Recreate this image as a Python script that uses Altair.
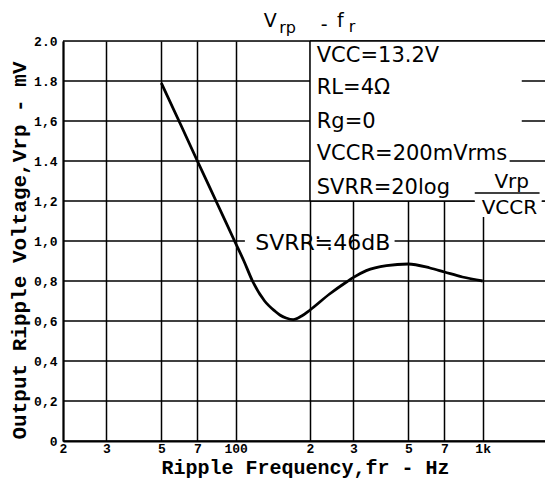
import altair as alt
import pandas as pd

# ---- data ----
freq_hz = [50, 60, 70, 84, 99, 108, 117, 131, 144, 151, 160, 171, 185, 200, 240,
           281, 300, 338, 408, 500, 612, 700, 828, 1000]
vrp_mv = [1.79, 1.58, 1.40, 1.19, 1.00, 0.90, 0.80, 0.70, 0.65, 0.63, 0.615, 0.607,
          0.625, 0.655, 0.735, 0.795, 0.818, 0.852, 0.877, 0.885, 0.865, 0.845, 0.82, 0.80]

x_ticks = [20, 30, 50, 70, 100, 200, 300, 500, 700, 1000, 2000]
x_tick_labels = ["2", "3", "5", "7", "100", "2", "3", "5", "7", "1k", "2"]
y_ticks = [0, 0.2, 0.4, 0.6, 0.8, 1.0, 1.2, 1.4, 1.6, 1.8, 2.0]
y_tick_labels = ["0", "0,2", "0,4", "0,6", "0,8", "1,0", "1,2", "1.4", "1,6", "1.8", "2.0"]

box_lines = ["VCC=13.2V", "RL=4Ω", "Rg=0", "VCCR=200mVrms", "SVRR=20log"]
svrr_note = "SVRR≒46dB"
x_title = "Ripple Frequency,fr - Hz"
y_title = "Output Ripple Voltage,Vrp - mV"


def label_expr(values, labels):
    expr = "''"
    for val, lab in reversed(list(zip(values, labels))):
        expr = f"abs(datum.value - {val}) < 1e-6 ? '{lab}' : ({expr})"
    return expr


curve = pd.DataFrame({"f": freq_hz, "v": vrp_mv})

X_SCALE = alt.Scale(type="log", domain=[20, 2000], nice=False)
Y_SCALE = alt.Scale(domain=[0, 2], nice=False)
MONO = "Liberation Mono"
SANS = "DejaVu Sans"
GRID_W = 1.5

x_axis = alt.Axis(values=x_ticks, labelExpr=label_expr(x_ticks, x_tick_labels),
                  title=x_title, grid=True, tickSize=0, labelPadding=1,
                  labelFont=MONO, labelFontWeight="bold", labelFontSize=13,
                  labelColor="black", labelOverlap=False, labelFlush=False,
                  titleFont=MONO, titleFontWeight="bold", titleFontSize=20,
                  titleColor="black", titleX=242, titleY=32, titleBaseline="alphabetic",
                  titleAnchor="start", titleAlign="center",
                  gridColor="black", gridWidth=GRID_W, gridOpacity=1,
                  domainColor="black", domainWidth=2)
y_axis = alt.Axis(values=y_ticks, labelExpr=label_expr(y_ticks, y_tick_labels),
                  title=y_title, grid=False, tickSize=0, labelPadding=6,
                  labelFont=MONO, labelFontWeight="bold", labelFontSize=13,
                  labelColor="black", labelOverlap=False, labelFlush=False,
                  labelSeparation=0,
                  titleFont=MONO, titleFontWeight="bold", titleFontSize=21,
                  titleColor="black", titleX=-44, titleY=209, titleAngle=270,
                  titleAlign="center", titleBaseline="middle", titleAnchor="start",
                  domainColor="black", domainWidth=2)

base = alt.Chart(curve).mark_line(color="black", strokeWidth=2.8,
                                  interpolate="monotone").encode(
    x=alt.X("f:Q", scale=X_SCALE, axis=x_axis),
    y=alt.Y("v:Q", scale=Y_SCALE, axis=y_axis),
)

# horizontal grid lines (the 1.0 line is drawn in pieces around the SVRR note)
y_grid_vals = [v for v in y_ticks if v != 1.0]
grid_y = alt.Chart(pd.DataFrame({"v": y_grid_vals})).mark_rule(
    color="black", strokeWidth=GRID_W).encode(
    y=alt.Y("v:Q"), x=alt.value(0), x2=alt.value(494))

# white boxes behind the condition block
boxes = pd.DataFrame({"f": [200, 929], "f2": [2000, 1735],
                      "v": [1.2, 1.12], "v2": [2.0, 1.2]})
white = alt.Chart(boxes).mark_rect(color="white").encode(
    x=alt.X("f:Q"), x2="f2:Q", y=alt.Y("v:Q"), y2="v2:Q")

hseg = pd.DataFrame({
    "f": [20, 440, 200, 200, 1735, 1440, 1440, 1286],
    "f2": [109, 2000, 2000, 929, 2000, 2000, 2000, 2000],
    "v": [1.0, 1.0, 2.0, 1.2, 1.2, 1.8, 1.6, 1.4],
})
hrules = alt.Chart(hseg).mark_rule(color="black", strokeWidth=GRID_W).encode(
    x=alt.X("f:Q"), x2="f2:Q", y=alt.Y("v:Q"))
vrule = alt.Chart(pd.DataFrame({"f": [200], "v": [1.2], "v2": [2.0]})).mark_rule(
    color="black", strokeWidth=GRID_W).encode(x=alt.X("f:Q"), y=alt.Y("v:Q"), y2="v2:Q")
frac_bar = alt.Chart(pd.DataFrame({"f": [929], "f2": [1700], "v": [1.24]})).mark_rule(
    color="black", strokeWidth=1.6).encode(x=alt.X("f:Q"), x2="f2:Q", y=alt.Y("v:Q"))

box_text = alt.Chart(pd.DataFrame({
    "f": [213] * 5, "v": [1.925, 1.765, 1.595, 1.435, 1.265], "t": box_lines
})).mark_text(align="left", baseline="middle", font=SANS, fontSize=21,
              color="black").encode(x=alt.X("f:Q"), y=alt.Y("v:Q"), text="t:N")

frac_text = alt.Chart(pd.DataFrame({
    "f": [1311, 1283], "v": [1.295, 1.165], "t": ["Vrp", "VCCR"]
})).mark_text(align="center", baseline="middle", font=SANS, fontSize=20,
              color="black").encode(x=alt.X("f:Q"), y=alt.Y("v:Q"), text="t:N")

note = alt.Chart(pd.DataFrame({"f": [120], "v": [0.99], "t": [svrr_note]})).mark_text(
    align="left", baseline="middle", font=SANS, fontSize=22, color="black").encode(
    x=alt.X("f:Q"), y=alt.Y("v:Q"), text="t:N")

# chart heading "Vrp - fr" (main letters + subscripts)
head_main = alt.Chart(pd.DataFrame({"f": [130, 221, 257], "v": [2.1, 2.08, 2.1],
                                    "t": ["V", "-", "f"]})).mark_text(
    align="left", baseline="middle", font=SANS, fontSize=19, color="black").encode(
    x=alt.X("f:Q"), y=alt.Y("v:Q"), text="t:N")
head_sub = alt.Chart(pd.DataFrame({"f": [150, 287], "v": [2.065, 2.07],
                                   "t": ["rp", "r"]})).mark_text(
    align="left", baseline="middle", font=SANS, fontSize=16, color="black").encode(
    x=alt.X("f:Q"), y=alt.Y("v:Q"), text="t:N")

chart = alt.layer(
    base, grid_y, white, hrules, vrule, frac_bar, box_text, frac_text, note,
    head_main, head_sub
).properties(
    width=494, height=400,
    autosize=alt.AutoSizeParams(type="none"),
    padding={"left": 55, "top": 33, "right": -12, "bottom": 37},
).configure_view(stroke="black", strokeWidth=2).configure(
    background="white"
).configure_axis(labelOverlap=False).configure_axisY(labelOverlap=False, tickCount=11)

chart.save("out.html", embed_options={"renderer": "svg", "actions": False})
